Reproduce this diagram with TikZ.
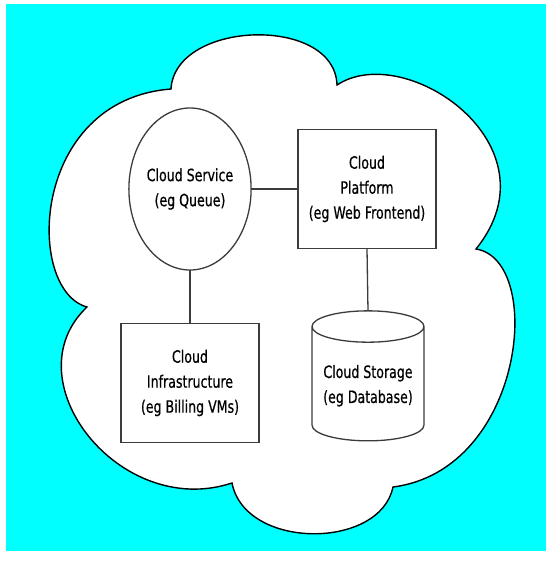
\documentclass[tikz,border=0pt]{standalone}
\usepackage{fontspec}
\setmainfont{DejaVu Sans}[FakeStretch=0.74, FakeBold=0.6]
\usepackage{tikz}
\usetikzlibrary{shapes.geometric}
\definecolor{ccyan}{RGB}{0,255,255}
\definecolor{cline}{RGB}{60,60,60}
\tikzset{
  part/.style={draw=cline, fill=white, line width=1.3pt, align=center,
    font=\fontsize{17}{25}\selectfont, inner sep=0pt},
  partbox/.style={part, rectangle, minimum width=138pt, minimum height=119pt},
  link/.style={draw=cline, line width=1.3pt}
}
\begin{document}
\begin{tikzpicture}[y=1pt, x=1pt, yscale=-1, inner sep=0pt, outer sep=0pt]

% page and background
\useasboundingbox (0,0) rectangle (547,571);
\fill[white] (0,0) rectangle (547,571);
\fill[ccyan] (6,4) rectangle (546,551);

% cloud
\draw[fill=white, line width=1.4pt] (87,307) .. controls (25,290) and (30,100) ..
  (171,89) .. controls (175,20) and (335,15) ..
  (337,85) .. controls (405,40) and (560,145) ..
  (476,249) .. controls (545,260) and (525,470) ..
  (393,487) .. controls (380,550) and (245,550) ..
  (232,483) .. controls (120,520) and (10,380) .. (87,307) -- cycle;

% services
\node[part, ellipse, minimum width=112pt, minimum height=162pt] (service) at (190,189)
  {Cloud Service\\(eg Queue)};
\node[partbox] (platform) at (367,189) {Cloud\\Platform\\(eg Web Frontend)};
\node[partbox] (infra) at (190,383) {Cloud\\Infrastructure\\(eg Billing VMs)};
\node[part, cylinder, shape border rotate=90, aspect=0.35, minimum width=112pt,
  minimum height=130pt, text depth=0pt] (storage) at (368,384)
  {Cloud Storage\\(eg Database)};

% links
\draw[link] (service) -- (platform);
\draw[link] (service.south) -- (infra.north);
\draw[link] (platform.south) -- (storage.north);

\end{tikzpicture}
\end{document}
